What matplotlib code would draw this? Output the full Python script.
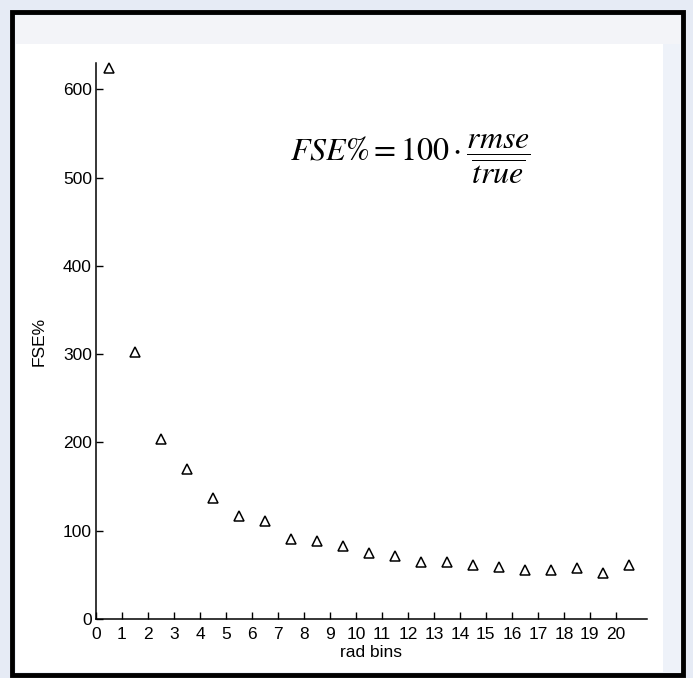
import matplotlib.pyplot as plt
from matplotlib.patches import Rectangle

# data
rad_bins = [0.5, 1.5, 2.5, 3.5, 4.5, 5.5, 6.5, 7.5, 8.5, 9.5, 10.5,
            11.5, 12.5, 13.5, 14.5, 15.5, 16.5, 17.5, 18.5, 19.5, 20.5]
fse_pct = [624, 302, 204, 170, 137, 117, 111, 91, 88, 83, 75,
           71, 65, 65, 61, 59, 56, 56, 58, 52, 61]
x_ticks = list(range(0, 21))
y_ticks = [0, 100, 200, 300, 400, 500, 600]

plt.rcParams['font.family'] = ['Liberation Sans', 'DejaVu Sans']
plt.rcParams['mathtext.fontset'] = 'stix'

W, H = 693, 678
fig = plt.figure(figsize=(W / 100, H / 100), dpi=100)
fig.patch.set_facecolor('#E6EBF5')

def px_rect(x0, y0, x1, y1, **kw):
    # rectangle in pixel coords (origin top-left)
    fig.patches.append(Rectangle((x0 / W, 1 - y1 / H), (x1 - x0) / W, (y1 - y0) / H,
                                 transform=fig.transFigure, **kw))

# framed panel like a screenshot
px_rect(12, 12, 683, 675, facecolor='#EEF2F9', edgecolor='none', zorder=-12)
px_rect(16, 16, 680, 44, facecolor='#F3F4F8', edgecolor='none', zorder=-11)
px_rect(16, 44, 663, 672, facecolor='white', edgecolor='none', zorder=-11)
px_rect(12, 12, 683, 675, facecolor='none', edgecolor='black', linewidth=3.5, zorder=5)

ax = fig.add_axes([96 / W, 1 - 619 / H, (647 - 96) / W, (619 - 63) / H])
ax.set_facecolor('none')

ax.plot(rad_bins, fse_pct, linestyle='none', marker='^', markersize=6.5,
        markerfacecolor='none', markeredgecolor='black', markeredgewidth=1.1,
        clip_on=False)

ax.set_xlim(0, 21.2)
ax.set_ylim(0, 630)
ax.set_xticks(x_ticks)
ax.set_yticks(y_ticks)
ax.tick_params(direction='in', length=5, width=1, labelsize=12.5, pad=3)
ax.tick_params(axis='x', pad=6)

for s in ['top', 'right']:
    ax.spines[s].set_visible(False)
for s in ['left', 'bottom']:
    ax.spines[s].set_linewidth(1.1)

ax.set_xlabel('rad bins', fontsize=12.5, labelpad=2)
ax.set_ylabel('FSE%', fontsize=12.5, labelpad=12)

fig.text(410 / W, 1 - 160 / H, r'$FSE\% = 100 \cdot \dfrac{rmse}{\overline{true}}$',
         fontsize=23, ha='center', va='center')

fig.savefig('out.png', dpi=100, facecolor=fig.get_facecolor())
